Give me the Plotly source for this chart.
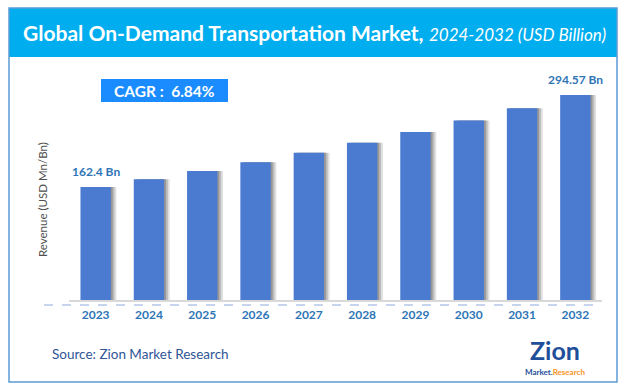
import plotly.graph_objects as go

years = ["2023", "2024", "2025", "2026", "2027", "2028", "2029", "2030", "2031", "2032"]
revenue = [162.4, 173.4, 185.3, 198.0, 211.6, 226.1, 241.6, 258.1, 275.8, 294.57]
value_labels = {"2023": "162.4 Bn", "2032": "294.57 Bn"}
title_main = "Global On-Demand Transportation Market,"
title_sub = "2024-2032 (USD Billion)"
cagr_text = "CAGR :  6.84%"
source_text = "Source: Zion Market Research"
y_title = "Revenue (USD Mn/Bn)"

W, H = 625, 392
ML, MR, MT, MB = 69, 23, 60, 92
PW, PH = W - ML - MR, H - MT - MB


def px(x):
    return (x - ML) / PW


def py(y):
    return (H - MB - y) / PH


BAR = "#4A7BD1"
LBL = "#2E75B6"
bw = 0.57
idx = list(range(len(years)))

fig = go.Figure()
# soft shadows
for k, op in [(3, 0.18), (2, 0.26), (1, 0.38)]:
    fig.add_trace(go.Bar(
        x=idx, y=revenue, width=bw, offset=-bw / 2 + 0.035 * k,
        marker=dict(color=f"rgba(90,90,90,{op})", line=dict(width=0)),
        hoverinfo="skip", showlegend=False))
fig.add_trace(go.Bar(
    x=idx, y=revenue, width=bw, offset=-bw / 2,
    marker=dict(color=BAR, line=dict(width=0)), showlegend=False))

for i, (yr, v) in enumerate(zip(years, revenue)):
    if yr in value_labels:
        fig.add_annotation(x=i, y=v, text=f"<b>{value_labels[yr]}</b>", showarrow=False,
                           yanchor="bottom", yshift=6, font=dict(size=12, color=LBL, family="Lato"))

shapes = [
    dict(type="rect", xref="paper", yref="paper", x0=px(9), x1=px(617), y0=py(57), y1=py(8),
         fillcolor="#00AEEF", line=dict(width=0), layer="below"),
    dict(type="rect", xref="paper", yref="paper", x0=px(9), x1=px(617), y0=py(382), y1=py(8),
         fillcolor="rgba(0,0,0,0)", line=dict(color="#5B9BD5", width=1.5)),
    dict(type="rect", xref="paper", yref="paper", x0=px(101), x1=px(228), y0=py(102), y1=py(79),
         fillcolor="#1A8CFF", line=dict(width=0)),
    dict(type="line", xref="paper", yref="paper", x0=px(44), x1=px(602), y0=py(305), y1=py(305),
         line=dict(color="#8FAADC", width=1.2, dash="dash")),
]

annotations = [
    dict(xref="paper", yref="paper", x=px(314), y=py(33),
         text=f"<b>{title_main}</b> <i><span style='font-size:17px'>{title_sub}</span></i>",
         showarrow=False, font=dict(size=21, color="white", family="Lato"),
         xanchor="center", yanchor="middle"),
    dict(xref="paper", yref="paper", x=px(164), y=py(90.5), text=f"<b>{cagr_text}</b>",
         showarrow=False, font=dict(size=15.5, color="white", family="Lato"),
         xanchor="center", yanchor="middle"),
    dict(xref="paper", yref="paper", x=px(43), y=py(200), text=y_title, textangle=-90,
         showarrow=False, font=dict(size=11.5, color="#505050", family="Lato"),
         xanchor="center", yanchor="middle"),
    dict(xref="paper", yref="paper", x=px(50), y=py(354), text=source_text,
         showarrow=False, font=dict(size=13.5, color="#2F5597", family="Lato"),
         xanchor="left", yanchor="middle"),
    dict(xref="paper", yref="paper", x=px(555), y=py(350), text="<b>Zion</b>",
         showarrow=False, font=dict(size=25, color="#1F4E9A", family="Lato"),
         xanchor="center", yanchor="middle"),
    dict(xref="paper", yref="paper", x=px(555), y=py(372),
         text="<b><span style='color:#1F4E9A'>Market.</span><span style='color:#F7941D'>Research</span></b>",
         showarrow=False, font=dict(size=8, family="Lato"),
         xanchor="center", yanchor="middle"),
]

fig.update_layout(
    width=W, height=H, margin=dict(l=ML, r=MR, t=MT, b=MB),
    paper_bgcolor="white", plot_bgcolor="white",
    barmode="overlay",
    shapes=shapes, annotations=list(fig.layout.annotations) + annotations,
    xaxis=dict(range=[-0.5, len(years) - 0.5], showgrid=False, showline=True,
               linecolor="#D9D9D9", linewidth=1.5, zeroline=False,
               ticks="", tickfont=dict(size=12, color=LBL, family="Lato"),
               tickmode="array", tickvals=idx, ticktext=[f"<b>{y}</b>" for y in years],
               ticklabelstandoff=3, fixedrange=True),
    yaxis=dict(range=[0, 345], showgrid=False, showticklabels=False, zeroline=False,
               showline=False, fixedrange=True),
    font=dict(family="Lato"),
)

fig.write_html("out.html", config={"displayModeBar": False},
               post_script="document.body.style.margin='0';document.body.style.padding='0';")
